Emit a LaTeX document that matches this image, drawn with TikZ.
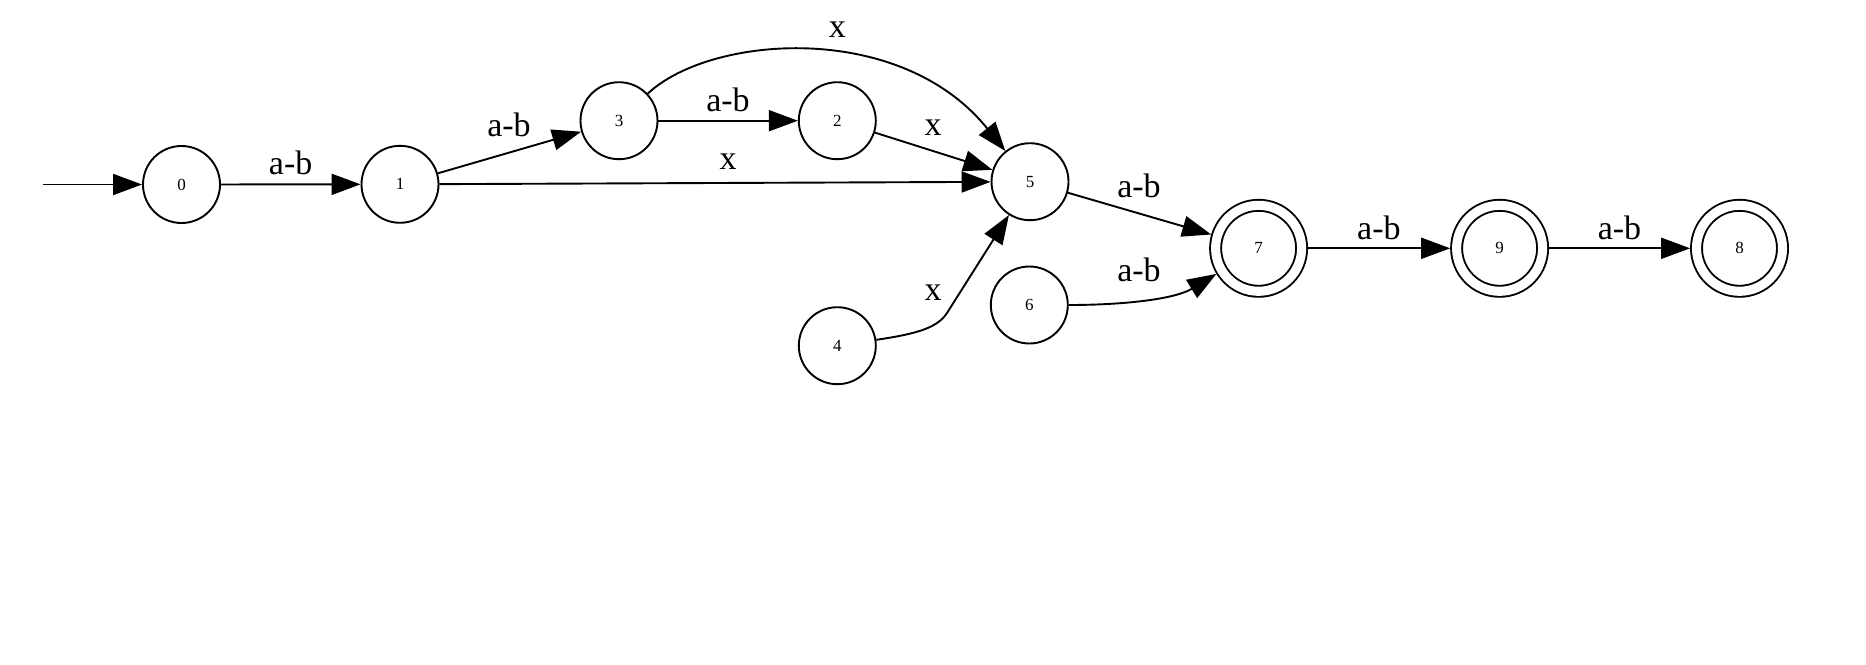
\documentclass[tikz,border=0pt]{standalone}
\usepackage{fontspec}
\setmainfont{Liberation Serif}
\usetikzlibrary{arrows.meta}
\begin{document}
\begin{tikzpicture}[x={0.5pt},y={-0.5pt}, line width=0.95pt,
  state/.style={draw, circle, minimum size=38.5pt, inner sep=0pt, font=\fontsize{8.5}{9}\selectfont},
  accept/.style={draw, circle, minimum size=43pt, inner sep=0pt, double, double distance=4.55pt,
                 outer sep=3.2pt, font=\fontsize{8.5}{9}\selectfont},
  lab/.style={inner sep=0pt, font=\fontsize{17}{18}\selectfont},
  edge/.style={-{Triangle[length=14.5pt,width=10.5pt]}}]
\useasboundingbox (0,0) rectangle (1866,664);
% nodes
\node[state] (n0) at (181.5,184.5) {0};
\node[state] (n1) at (400,184.3) {1};
\node[state] (n3) at (619,120.7) {3};
\node[state] (n2) at (837.3,120.7) {2};
\node[state] (n5) at (1030,181.7) {5};
\node[state] (n4) at (837.3,345.7) {4};
\node[state] (n6) at (1029.3,305) {6};
\node[accept] (n7) at (1258.6,248.3) {7};
\node[accept] (n9) at (1499.6,248.3) {9};
\node[accept] (n8) at (1739.5,248.3) {8};
\coordinate (start) at (43,184.5);
% edges
\draw[edge] (start) -- (n0);
\draw[edge] (n0) -- (n1);
\draw[edge] (n1) -- (n3);
\draw[edge] (n3) -- (n2);
\draw[edge] (n1) -- (n5);
\draw[edge] (n2) -- (n5);
\draw[edge] (n3) .. controls (710,35) and (900,20) .. (n5);
\draw[edge] (n4) .. controls (915,334) and (937,328.5) .. (947,313) -- (n5);
\draw[edge] (n5) -- (n7);
\draw[edge] (n6) .. controls (1125,305) and (1175,299) .. (n7);
\draw[edge] (n7) -- (n9);
\draw[edge] (n9) -- (n8);
% labels
\node[lab] (l01) at (290.7,163) {a-b};
\node[lab] (l13) at (509,125) {a-b};
\node[lab] (l32) at (728,100) {a-b};
\node[lab] (l35) at (837.3,29.3) {x};
\node[lab] (l15) at (728,162) {x};
\node[lab] (l25) at (933,128) {x};
\node[lab] (l45) at (933,293) {x};
\node[lab] (l57) at (1139,186) {a-b};
\node[lab] (l67) at (1139,270) {a-b};
\node[lab] (l79) at (1378.9,228.3) {a-b};
\node[lab] (l98) at (1619.5,228.3) {a-b};
\end{tikzpicture}
\end{document}
